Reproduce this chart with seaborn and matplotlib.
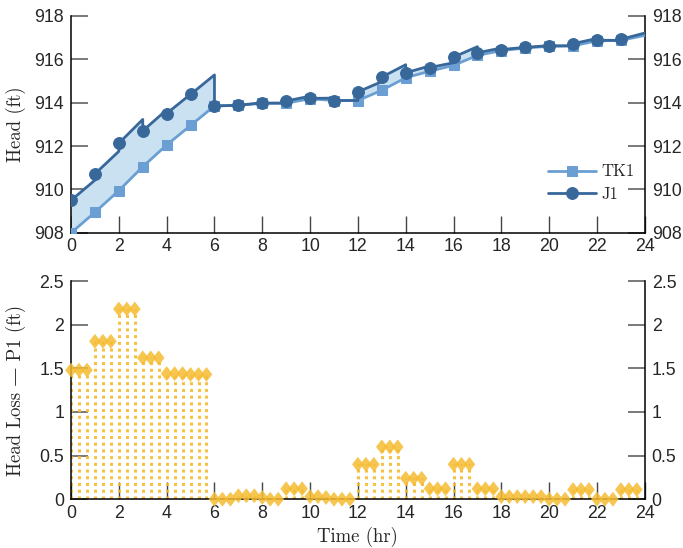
import numpy as np
import pandas as pd
import seaborn as sns
import matplotlib.pyplot as plt

# Data
hours = list(range(25))
tk1_head = [908.00, 908.95, 909.95, 911.05, 912.05, 912.95, 913.85, 913.88, 913.97,
            913.98, 914.18, 914.10, 914.10, 914.57, 915.15, 915.45, 915.72, 916.18,
            916.40, 916.52, 916.60, 916.62, 916.85, 916.87, 917.10]
# J1 head at the start of each hour, and at the end of that hour's segment
j1_start = [909.50, 910.72, 912.13, 912.70, 913.50, 914.38, 913.85, 913.88, 913.98,
            914.08, 914.20, 914.10, 914.50, 915.18, 915.38, 915.62, 916.10, 916.30,
            916.45, 916.55, 916.62, 916.72, 916.88, 916.92]
j1_end = [910.43, 911.76, 913.23, 913.67, 914.39, 915.28, 913.88, 914.00, 913.98,
          914.30, 914.21, 914.10, 914.97, 915.75, 915.69, 915.84, 916.58, 916.52,
          916.55, 916.63, 916.62, 916.96, 916.87, 917.21]

# Head loss in pipe P1, every 20 minutes
head_loss = [1.48, 1.48, 1.48,  1.81, 1.81, 1.81,  2.18, 2.18, 2.18,
             1.62, 1.62, 1.62,  1.44, 1.44, 1.44,  1.43, 1.43, 1.43,
             0.00, 0.00, 0.00,  0.04, 0.04, 0.04,  0.02, 0.00, 0.00,
             0.12, 0.12, 0.12,  0.03, 0.03, 0.02,  0.00, 0.00, 0.00,
             0.40, 0.40, 0.40,  0.60, 0.60, 0.60,  0.24, 0.24, 0.24,
             0.12, 0.12, 0.12,  0.40, 0.40, 0.40,  0.12, 0.12, 0.12,
             0.03, 0.03, 0.03,  0.03, 0.03, 0.03,  0.00, 0.00, 0.00,
             0.11, 0.11, 0.11,  0.00, 0.00, 0.00,  0.11, 0.11, 0.11]
hl_time = np.arange(len(head_loss)) / 3

c_tk = '#6b9fd3'
c_j1 = '#38679a'
c_fill = '#c9e1f1'
c_gold = '#f5bc32'

sns.set_style('ticks')
plt.rcParams['font.family'] = ['Liberation Sans', 'DejaVu Sans']
serif = ['cmr10', 'DejaVu Serif']

fig = plt.figure(figsize=(6.83, 5.48), dpi=100)
ax1 = fig.add_axes([0.104, 0.575, 0.840, 0.396])
ax2 = fig.add_axes([0.104, 0.089, 0.840, 0.398])

# segmented J1 line (jumps at each hour) and matching tank line
x_seg = np.repeat(hours, 2)[1:-1]
j1_seg = np.column_stack([j1_start, j1_end]).ravel()
tk_seg = np.column_stack([tk1_head[:-1], tk1_head[1:]]).ravel()

ax1.fill_between(x_seg, tk_seg, j1_seg, color=c_fill, lw=0, zorder=1)
sns.lineplot(x=hours, y=tk1_head, estimator=None, sort=False, color=c_tk, lw=2,
             marker='s', ms=7, mec=c_tk, markevery=list(range(24)), ax=ax1,
             label='TK1', zorder=3)
sns.lineplot(x=x_seg, y=j1_seg, estimator=None, sort=False, color=c_j1, lw=2,
             marker='o', ms=8.5, mec=c_j1, markevery=list(range(0, 48, 2)), ax=ax1,
             label='J1', zorder=4)
ax1.legend(loc='center left', bbox_to_anchor=(0.805, 0.23), frameon=False,
           prop={'family': serif, 'size': 12}, handlelength=2.9,
           handletextpad=0.3, labelspacing=0.42)

# stems + diamonds
ax2.vlines(hl_time, 0, head_loss, colors=c_gold, linestyles=(0, (1, 1.2)),
           lw=2.2, alpha=0.9, zorder=2)
diamond = [(0, 1), (0.78, 0), (0, -1), (-0.78, 0), (0, 1)]
sns.scatterplot(x=hl_time, y=head_loss, marker=diamond, s=115, color=c_gold,
                edgecolor='none', alpha=0.85, ax=ax2, zorder=3, clip_on=False)

for ax in (ax1, ax2):
    ax.set_xlim(0, 24)
    ax.set_xticks(range(0, 25, 2))
    for s in ('left', 'right', 'bottom'):
        ax.spines[s].set_visible(True)
        ax.spines[s].set_color('black')
        ax.spines[s].set_linewidth(1.1)
    ax.spines['top'].set_visible(False)
    ax.tick_params(axis='y', direction='in', length=12.5, width=1.1, color='#555555',
                   left=True, right=True, labelleft=True, labelright=True,
                   labelsize=12.8, pad=5)
    ax.tick_params(axis='x', direction='in', length=12.5, width=1.0, color='#444444',
                   labelsize=12.8, pad=4, top=False)

ax1.set_ylim(908, 918)
ax1.set_yticks(range(908, 919, 2))
ax2.set_ylim(0, 2.5)
ax2.set_yticks([0, 0.5, 1, 1.5, 2, 2.5])
ax2.set_yticklabels(['0', '0.5', '1', '1.5', '2', '2.5'])

ax1.set_xlabel('')
ax1.set_ylabel('Head (ft)', family=serif, fontsize=13.5)
ax1.yaxis.set_label_coords(-0.078, 0.5)
ax2.set_ylabel('Head Loss \u2014 P1 (ft)', family=serif, fontsize=13.5)
ax2.yaxis.set_label_coords(-0.078, 0.5)
ax2.set_xlabel('Time (hr)', family=serif, fontsize=13.5)
ax2.xaxis.set_label_coords(0.5, -0.128)

fig.savefig('out.png', dpi=100)
